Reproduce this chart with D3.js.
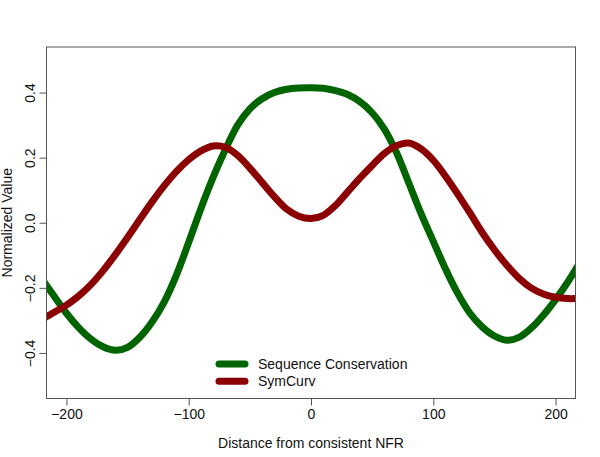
<!DOCTYPE html>
<html><head><meta charset="utf-8">
<script src="https://cdn.jsdelivr.net/npm/d3@7"></script>
<style>html,body{margin:0;padding:0;background:#fff;}svg{display:block;}</style>
</head><body>
<script>
const positions = [-220,-216,-210,-200,-190,-180,-170,-160,-150,-140,-130,-120,-110,-100,-90,-80,-70,-60,-50,-40,-30,-20,-10,0,10,20,30,40,50,60,70,80,90,100,110,120,130,140,150,160,170,180,190,200,210,216,220];
const conservation = [-0.172,-0.194,-0.226,-0.278,-0.322,-0.357,-0.381,-0.392,-0.383,-0.352,-0.305,-0.243,-0.160,-0.060,0.044,0.140,0.225,0.300,0.350,0.381,0.400,0.410,0.414,0.415,0.413,0.406,0.394,0.372,0.338,0.288,0.215,0.122,0.028,-0.057,-0.142,-0.217,-0.278,-0.320,-0.348,-0.361,-0.352,-0.324,-0.284,-0.236,-0.182,-0.146,-0.121];
const symcurv = [-0.297,-0.288,-0.275,-0.253,-0.225,-0.190,-0.147,-0.098,-0.045,0.010,0.064,0.114,0.158,0.194,0.221,0.236,0.232,0.207,0.168,0.124,0.080,0.042,0.020,0.013,0.023,0.053,0.095,0.137,0.176,0.213,0.237,0.245,0.227,0.192,0.143,0.088,0.030,-0.030,-0.083,-0.130,-0.170,-0.200,-0.219,-0.229,-0.233,-0.233,-0.232];
const xTicks = [-200,-100,0,100,200];
const yTicks = [-0.4,-0.2,0.0,0.2,0.4];
const seriesNames = ["Sequence Conservation","SymCurv"];
const seriesColors = ["#006400","#8b0000"];
const xLabel = "Distance from consistent NFR";
const yLabel = "Normalized Value";

const W = 600, H = 457;
const m = {left:46.5, right:24.5, top:47, bottom:58.5};
const svg = d3.select("body").append("svg").attr("width",W).attr("height",H);
const x = d3.scaleLinear().domain([-216.3,216.3]).range([m.left, W-m.right]);
const y = d3.scaleLinear().domain([-0.54,0.54]).range([H-m.bottom, m.top]);
const font = "'Liberation Sans', Arial, Helvetica, sans-serif";
const fmtX = d => d < 0 ? "\u2212" + Math.abs(d) : String(d);
const fmtY = d => (d < 0 ? "\u2212" : "") + Math.abs(d).toFixed(1);

svg.append("defs").append("clipPath").attr("id","clip").append("rect")
  .attr("x", m.left).attr("y", m.top).attr("width", W-m.left-m.right).attr("height", H-m.top-m.bottom);

const line = d3.line().x((d,i)=>x(positions[i])).y(d=>y(d)).curve(d3.curveCatmullRom.alpha(0.5));
const g = svg.append("g").attr("clip-path","url(#clip)");
[conservation, symcurv].forEach((s,i)=>{
  g.append("path").datum(s).attr("d", line).attr("fill","none")
    .attr("stroke", seriesColors[i]).attr("stroke-width",7).attr("stroke-linejoin","round").attr("stroke-linecap","round");
});

// box
svg.append("rect").attr("x",m.left).attr("y",m.top).attr("width",W-m.left-m.right).attr("height",H-m.top-m.bottom)
  .attr("fill","none").attr("stroke","#555").attr("stroke-width",1);

// axes
const xa = svg.append("g").attr("transform",`translate(0,${H-m.bottom})`)
  .call(d3.axisBottom(x).tickValues(xTicks).tickFormat(fmtX).tickSize(7).tickPadding(4));
const ya = svg.append("g").attr("transform",`translate(${m.left},0)`)
  .call(d3.axisLeft(y).tickValues(yTicks).tickFormat(fmtY).tickSize(7).tickPadding(4));
[xa,ya].forEach(a=>{
  a.select(".domain").remove();
  a.selectAll(".tick line").attr("stroke","#555");
  a.selectAll("text").attr("fill","#111").style("font-family",font).style("font-size","14px");
});
ya.selectAll(".tick text").each(function(d){
  d3.select(this).attr("transform", `translate(-12,0) rotate(-90)`).attr("x",0).attr("y",0).attr("dy","0").attr("text-anchor","middle");
});

svg.append("text").attr("x", (m.left + W - m.right)/2).attr("y", 448).attr("text-anchor","middle")
  .style("font-family",font).style("font-size","14px").attr("fill","#111").text(xLabel);
svg.append("text").attr("transform",`translate(12,${(m.top+H-m.bottom)/2}) rotate(-90)`).attr("text-anchor","middle")
  .style("font-family",font).style("font-size","14px").attr("fill","#111").text(yLabel);

// legend
const leg = svg.append("g");
seriesNames.forEach((n,i)=>{
  const ly = 364 + i*17.3;
  leg.append("line").attr("x1",219).attr("x2",245).attr("y1",ly).attr("y2",ly)
    .attr("stroke",seriesColors[i]).attr("stroke-width",7).attr("stroke-linecap","round");
  leg.append("text").attr("x",258).attr("y",ly).attr("dy","0.35em")
    .style("font-family",font).style("font-size","14px").attr("fill","#111").text(n);
});
</script>
</body></html>
